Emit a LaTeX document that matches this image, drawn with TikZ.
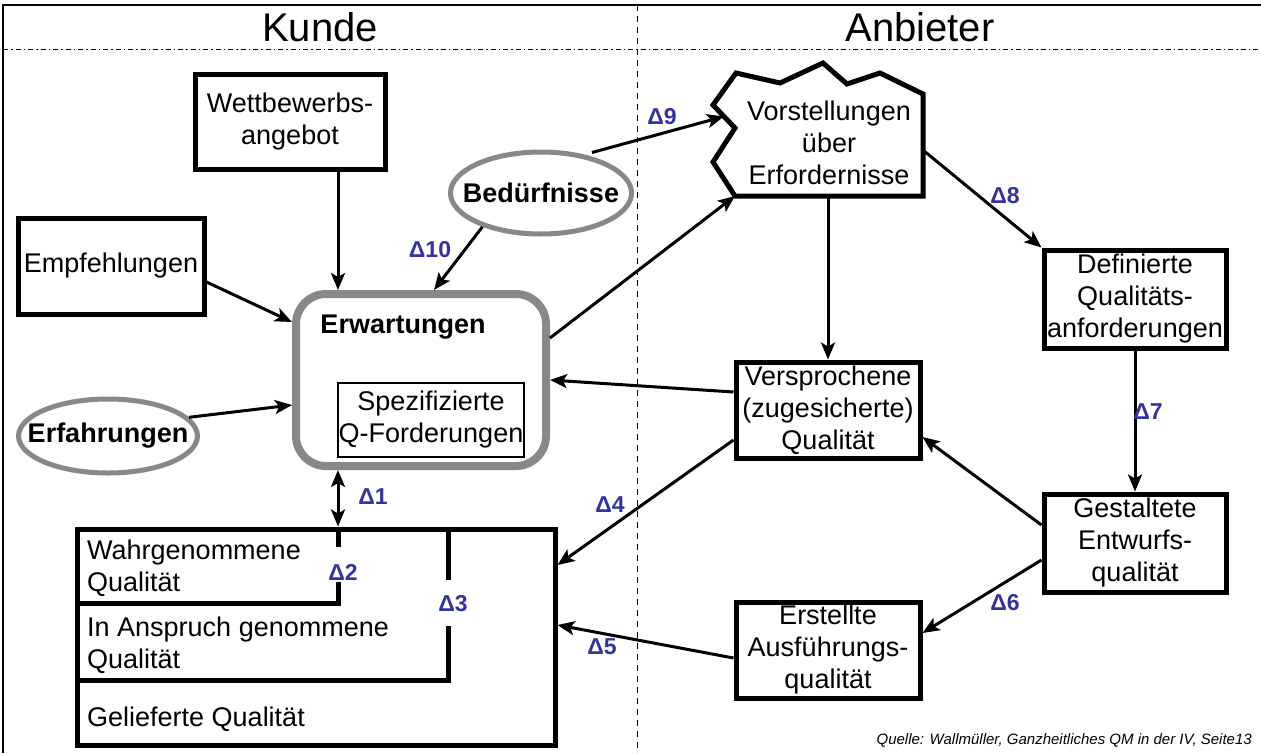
\documentclass[tikz,border=0pt]{standalone}
\usepackage{fontspec}
\setmainfont{Liberation Sans}
\usetikzlibrary{calc,shapes.geometric,arrows.meta,positioning}
\definecolor{deltablue}{RGB}{51,51,160}
\definecolor{ovalgray}{RGB}{136,136,136}
\tikzset{
	qbox/.style={draw, line width=5pt, align=center, inner sep=1pt, font=\fontsize{27}{32}\selectfont},
	qoval/.style={ellipse, draw=ovalgray, line width=5pt, inner ysep=0pt, font=\bfseries\fontsize{27}{32}\selectfont},
	qtext/.style={anchor=west, align=left, inner sep=0pt, font=\fontsize{27}{32}\selectfont},
	flow/.style={-{Stealth[length=17pt,width=14pt,inset=4pt]}, line width=3pt},
	delta/.style={text=deltablue, inner sep=0pt, font=\bfseries\fontsize{23}{26}\selectfont}
}

\begin{document}
\begin{tikzpicture}[x=1pt,y=-1pt]
		%%%%% START %%%%%
		\useasboundingbox (0,0) rectangle (1261,753);
		
		\draw[line width=2pt] (3,753) -- (3,5) -- (1261,5);
		\draw[line width=1pt, dash pattern=on 5pt off 3pt on 1.5pt off 3pt] (3,49) -- (1261,49);
		\draw[line width=1pt, dash pattern=on 6pt off 5pt] (637,5) -- (637,753);
		\node[font=\fontsize{40}{46}\selectfont] (kunde) at (320,27) {Kunde};
		\node[font=\fontsize{40}{46}\selectfont] (anbieter) at (920,27) {Anbieter};
		
		% Kunde
		\node[qbox, minimum width=190pt, minimum height=95pt] (wettbewerb) at (290,122) {Wettbewerbs-\\angebot};
		\node[qbox, minimum width=186pt, minimum height=96pt] (empfehlungen) at (111,266) {Empfehlungen};
		\node[qoval, inner xsep=-17pt, minimum height=74pt] (erfahrungen) at (108,436) {Erfahrungen};
		\node[qoval, inner xsep=-14pt, minimum height=82pt] (beduerfnisse) at (541,193) {Bedürfnisse};
		
		\node[draw=ovalgray, line width=8pt, rounded corners=30pt, minimum width=250pt, minimum height=172pt] (erwartungen) at (421,380) {};
		\node[font=\bfseries\fontsize{27}{32}\selectfont] (erwartungen-t) at (403,327) {Erwartungen};
		\node[qbox, line width=2pt, minimum width=186pt, minimum height=74pt] (spezi) at (431,420) {Spezifizierte\\Q-Forderungen};
		
		\node[draw, line width=5pt, minimum width=478pt, minimum height=216pt] (geliefert) at (316,637) {};
		\draw[line width=5pt] (338,527) -- (338,547);
		\draw[line width=5pt] (338,582) -- (338,603) -- (75,603);
		\draw[line width=5pt] (448,527) -- (448,580);
		\draw[line width=5pt] (448,626) -- (448,680) -- (75,680);
		\node[qtext] (wahr-t) at (87,568) {Wahrgenommene\\Qualität};
		\node[qtext] (anspruch-t) at (87,645) {In Anspruch genommene\\Qualität};
		\node[qtext] (geliefert-t) at (87,719) {Gelieferte Qualität};
		
		% Anbieter
		\coordinate (c1) at (736,73);
		\coordinate (c2) at (780,83);
		\coordinate (c3) at (823,63);
		\coordinate (c4) at (847,84);
		\coordinate (c5) at (880,73);
		\coordinate (c6) at (923,94);
		\coordinate (c7) at (923,196);
		\coordinate (c8) at (735,196);
		\coordinate (c9) at (713,162);
		\coordinate (c10) at (735,128);
		\coordinate (c11) at (713,105);
		\draw[line width=5pt] (c1) -- (c2) -- (c3) -- (c4) -- (c5) -- (c6) -- (c7) -- (c8) -- (c9) -- (c10) -- (c11) -- cycle;
		\node[align=center, font=\fontsize{27}{32}\selectfont] (vorst) at (829,143) {Vorstellungen\\über\\Erfordernisse};
		
		\node[qbox, minimum width=182pt, minimum height=98pt] (definierte) at (1135,299) {Definierte\\Qualitäts-\\anforderungen};
		\node[qbox, minimum width=184pt, minimum height=96pt] (versprochene) at (828,410) {Versprochene\\(zugesicherte)\\Qualität};
		\node[qbox, minimum width=182pt, minimum height=98pt] (gestaltete) at (1135,543) {Gestaltete\\Entwurfs-\\qualität};
		\node[qbox, minimum width=184pt, minimum height=96pt] (erstellte) at (828,650) {Erstellte\\Ausführungs-\\qualität};
		
		% Pfeile
		\draw[flow] ($(wettbewerb.south)+(48,0)$) -- ($(erwartungen.north)+(-83,0)$);
		\draw[flow] ($(empfehlungen.east)+(0,16)$) -- ($(erwartungen.west)+(0,-58)$);
		\draw[flow] (erfahrungen.13) -- ($(erwartungen.west)+(0,25)$);
		\draw[flow] (beduerfnisse.210) -- ($(erwartungen.north)+(13,0)$);
		\draw[flow] ($(erwartungen.east)+(0,-42)$) -- (c8);
		\draw[flow] ($(beduerfnisse.north)+(51,3)$) -- ($(c10)!0.5!(c11)$);
		\draw[flow] (versprochene.north |- c7) -- (versprochene.north);
		\draw[flow] ($(c6)!0.55!(c7)$) -- (definierte.north west);
		\draw[flow] (definierte.south) -- (gestaltete.north);
		\draw[flow] ($(gestaltete.west)+(0,-18)$) -- ($(versprochene.east)+(0,27)$);
		\draw[flow] ($(gestaltete.west)+(0,17)$) -- ($(erstellte.east)+(0,-17)$);
		\draw[flow] ($(versprochene.west)+(0,-18)$) -- (erwartungen.east);
		\draw[flow] ($(versprochene.west)+(0,30)$) -- ($(geliefert.east)+(0,-72)$);
		\draw[flow] ($(erstellte.west)+(0,8)$) -- ($(geliefert.east)+(0,-12)$);
		\draw[line width=3pt, {Stealth[length=17pt,width=14pt,inset=4pt]}-{Stealth[length=17pt,width=14pt,inset=4pt]}] ($(erwartungen.south)+(-83,0)$) -- ($(geliefert.north)+(22,0)$);
		
		% Deltas
		\node[delta] (d1) at (373,497) {Δ1};
		\node[delta] (d2) at (343,572) {Δ2};
		\node[delta] (d3) at (453,604) {Δ3};
		\node[delta] (d4) at (610,505) {Δ4};
		\node[delta] (d5) at (602,647) {Δ5};
		\node[delta] (d6) at (1005,603) {Δ6};
		\node[delta] (d7) at (1148,412) {Δ7};
		\node[delta] (d8) at (1005,196) {Δ8};
		\node[delta] (d9) at (662,117) {Δ9};
		\node[delta] (d10) at (430,250) {Δ10};
		
		\node[anchor=east, inner sep=0pt, font=\itshape\fontsize{15}{17}\selectfont] (quelle) at (1252,740) {Quelle: Wallmüller, Ganzheitliches QM in der IV, Seite13};
		%%%%% END %%%%%
	\end{tikzpicture}
\end{document}
